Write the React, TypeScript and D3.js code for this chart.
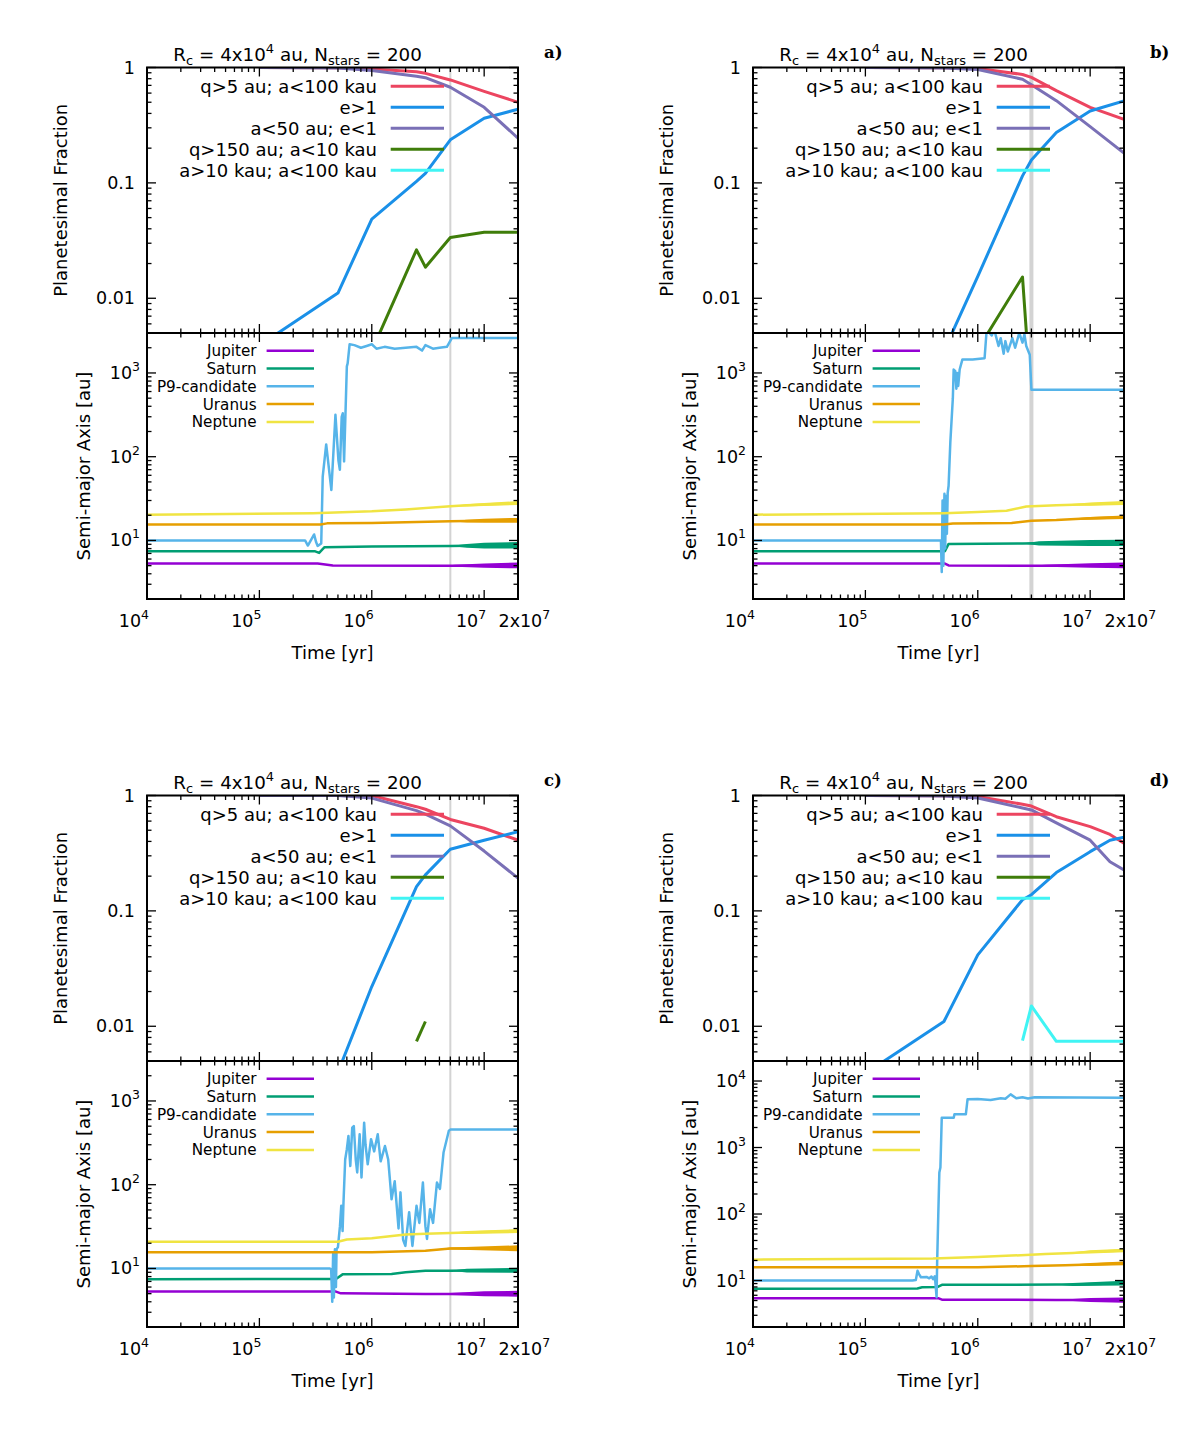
import React from 'react';
import * as d3 from 'd3';

type FRow = [number, number | null];
type PRow = number[]; // [t, a] or [t, lo, hi]

// ---------- labels / categories ----------
const FRACTION_LABELS = ['q>5 au; a<100 kau', 'e>1', 'a<50 au; e<1', 'q>150 au; a<10 kau', 'a>10 kau; a<100 kau'];
const FRACTION_COLORS = ['#ec4560', '#1a90e8', '#7a70b6', '#3f7d0a', '#40f4f4'];
const PLANET_LABELS = ['Jupiter', 'Saturn', 'P9-candidate', 'Uranus', 'Neptune'];
const PLANET_COLORS = ['#9400d3', '#009e73', '#56b4e9', '#e69f00', '#f0e442'];
const PANEL_TAGS = ['a)', 'b)', 'c)', 'd)'];
const MARKER_TIMES = [5e6, 3e6, 5e6, 3e6];
const SEMI_MAX = [3000, 3000, 3000, 20000];
const TIME_TICKS = [1e4, 1e5, 1e6, 1e7];
const FRACTION_TICKS = [1, 0.1, 0.01];
const FRACTION_TICK_LABELS = ['1', '0.1', '0.01'];

// ---------- fraction curves (time samples) ----------
const TIMES_ABC = [1e5, 5e5, 1e6, 2.5e6, 3e6, 5e6, 1e7, 2e7];
const TIMES_D = [1e5, 5e5, 1e6, 2.5e6, 3e6, 5e6, 1e7, 1.5e7, 2e7];

const a_q5 = [1, 0.995, 0.97, 0.92, 0.89, 0.78, 0.62, 0.5];
const a_e1 = [0.0039, 0.0111, 0.0485, 0.103, 0.121, 0.236, 0.363, 0.435];
const a_a50 = [1, 0.99, 0.94, 0.84, 0.816, 0.674, 0.452, 0.244];
const a_q150 = [null, null, 0.0035, 0.0263, 0.0186, 0.0336, 0.0374, 0.0374];
const a_a10k = [null, null, null, null, null, null, null, null];

const b_q5 = [1, 0.995, 0.98, 0.87, 0.82, 0.63, 0.452, 0.356];
const b_e1 = [0.0008, 0.0035, 0.0155, 0.115, 0.158, 0.273, 0.42, 0.513];
const b_a50 = [1, 0.99, 0.96, 0.79, 0.71, 0.516, 0.307, 0.181];
const b_q150 = [null, null, 0.0036, 0.0153, 0.0012, null, null, null];
const b_a10k = [null, null, null, null, null, null, null, null];

const c_q5 = [1, 1, 1, 0.8, 0.76, 0.62, 0.52, 0.41];
const c_e1 = [0.0005, 0.004, 0.0221, 0.162, 0.205, 0.342, 0.41, 0.486];
const c_a50 = [1, 1, 0.95, 0.74, 0.69, 0.545, 0.33, 0.192];
const c_q150 = [null, null, null, 0.0074, 0.011, null, null, null];
const c_a10k = [null, null, null, null, null, null, null, null];

const d_q5 = [1, 0.995, 0.98, 0.84, 0.81, 0.655, 0.537, 0.46, 0.386];
const d_e1 = [0.0039, 0.011, 0.0416, 0.125, 0.138, 0.215, 0.326, 0.41, 0.435];
const d_a50 = [1, 0.99, 0.95, 0.78, 0.75, 0.58, 0.41, 0.267, 0.226];
const d_q150 = [null, null, null, null, null, null, null, null, null];
const d_a10k = [null, null, null, 0.0075, 0.015, 0.0074, 0.0074, 0.0074, 0.0074];

// ---------- semi-major axes [t, a] or [t, low, high] ----------
const a_jupiter = [[1e4, 5.3], [3.3e5, 5.3], [4.5e5, 5.03], [4.5e6, 4.98], [5.5e6, 4.87, 5.12], [1e7, 4.72, 5.3], [2e7, 4.65, 5.45]];
const a_saturn = [[1e4, 7.45], [3.1e5, 7.45], [3.4e5, 7.1], [3.8e5, 8.3], [1e6, 8.45], [5e6, 8.6], [7e6, 8.2, 9.1], [1e7, 8.0, 9.4], [2e7, 8.0, 9.6]];
const a_p9 = [[1e4, 10], [2.55e5, 10], [2.7e5, 8.7], [2.9e5, 10.3], [3.07e5, 11.8], [3.2e5, 9.5], [3.3e5, 8.6], [3.55e5, 9.2], [3.66e5, 58], [3.93e5, 140], [4.37e5, 40], [4.75e5, 316], [5.05e5, 90], [5.2e5, 70], [5.4e5, 300], [5.52e5, 330], [5.67e5, 88], [6.0e5, 1200], [6.1e5, 1300], [6.35e5, 2200], [7e5, 2150], [8e5, 2000], [9e5, 2100], [1e6, 2200], [1.1e6, 1950], [1.3e6, 2050], [1.6e6, 1950], [2e6, 2000], [2.5e6, 2050], [2.8e6, 1850], [3e6, 2150], [3.5e6, 1950], [4e6, 2000], [4.66e6, 2050], [5.17e6, 2620], [2e7, 2620]];
const a_uranus = [[1e4, 15.5], [3.5e5, 15.5], [4e5, 16], [1e6, 16.2], [5e6, 17], [7e6, 16.4, 17.7], [1e7, 16.3, 18.2], [2e7, 16.3, 18.6]];
const a_neptune = [[1e4, 20.3], [3e5, 21.2], [1e6, 22.3], [2e6, 23.5], [5e6, 25.7], [7e6, 25.5, 27], [1e7, 25.8, 28], [2e7, 26.5, 29.5]];

const b_jupiter = [[1e4, 5.3], [5.1e5, 5.3], [5.5e5, 5.03], [3e6, 5.0], [4e6, 4.87, 5.13], [1e7, 4.72, 5.35], [2e7, 4.65, 5.45]];
const b_saturn = [[1e4, 7.45], [5.1e5, 7.45], [5.5e5, 9.1], [2.5e6, 9.2], [3.5e6, 8.7, 9.8], [1e7, 8.6, 10.1], [2e7, 8.6, 10.2]];
const b_p9 = [[1e4, 10], [4.7e5, 10], [4.78e5, 4.2], [4.86e5, 30], [4.94e5, 5], [5.05e5, 36], [5.13e5, 8], [5.22e5, 34], [5.31e5, 12], [5.4e5, 37], [5.5e5, 45], [5.7e5, 150], [6.0e5, 500], [6.1e5, 1100], [6.3e5, 1050], [6.45e5, 650], [6.56e5, 1000], [6.7e5, 700], [6.9e5, 1100], [7.3e5, 1450], [9e5, 1450], [1.15e6, 1500], [1.2e6, 3300], [1.33e6, 2800], [1.4e6, 3300], [1.53e6, 2100], [1.6e6, 2600], [1.7e6, 1700], [1.76e6, 2400], [1.85e6, 1800], [2.03e6, 2600], [2.15e6, 2000], [2.34e6, 3000], [2.5e6, 2300], [2.6e6, 2900], [2.7e6, 2100], [2.9e6, 1650], [3.0e6, 630], [2e7, 630]];
const b_uranus = [[1e4, 15.5], [5e5, 15.5], [6e5, 15.9], [2e6, 16.2], [3e6, 17.2], [5e6, 17.5], [1e7, 17.7, 19.1], [2e7, 18.1, 19.9]];
const b_neptune = [[1e4, 20.3], [5e5, 21.2], [1e6, 21.8], [1.8e6, 22.6], [2.7e6, 25.5], [5e6, 26.3], [1e7, 26, 28.3], [2e7, 26.5, 29.5]];

const c_jupiter = [[1e4, 5.3], [4.8e5, 5.3], [5.3e5, 5.05], [3e6, 4.95], [5e6, 4.82, 5.08], [1e7, 4.65, 5.35], [2e7, 4.6, 5.4]];
const c_saturn = [[1e4, 7.45], [4.8e5, 7.5], [5.5e5, 8.5], [1.5e6, 8.6], [2e6, 9.0], [3e6, 9.4], [5e6, 9.4], [7e6, 8.95, 9.95], [2e7, 8.9, 10.2]];
const c_p9 = [[1e4, 10], [4.2e5, 10], [4.35e5, 9.8], [4.45e5, 4], [4.53e5, 15], [4.6e5, 4.5], [4.7e5, 17], [4.8e5, 6], [4.86e5, 17], [5.0e5, 18], [5.21e5, 32], [5.35e5, 56], [5.5e5, 28], [5.6e5, 61], [5.8e5, 200], [6e5, 265], [6.2e5, 382], [6.44e5, 167], [6.7e5, 480], [6.92e5, 500], [7.2e5, 200], [7.42e5, 140], [7.8e5, 400], [8.1e5, 122], [8.55e5, 550], [8.8e5, 300], [9.2e5, 175], [9.85e5, 350], [1.05e6, 250], [1.13e6, 400], [1.2e6, 190], [1.31e6, 290], [1.4e6, 200], [1.5e6, 67], [1.6e6, 110], [1.73e6, 30], [1.8e6, 81], [1.9e6, 22], [1.99e6, 18.6], [2.15e6, 47], [2.3e6, 18.6], [2.5e6, 56], [2.65e6, 35], [2.85e6, 106], [3e6, 32], [3.1e6, 22.5], [3.3e6, 51], [3.51e6, 35], [3.8e6, 106], [4.04e6, 89], [4.35e6, 242], [4.85e6, 440], [5.0e6, 455], [2e7, 455]];
const c_uranus = [[1e4, 15.6], [1e6, 15.6], [3e6, 16.3], [5e6, 16.8, 17.8], [2e7, 16.1, 18.9]];
const c_neptune = [[1e4, 20.8], [5e5, 20.8], [6e5, 22.2], [1e6, 23], [2e6, 25.5], [3e6, 26], [5e6, 26.5], [7e6, 25.8, 28], [2e7, 26.5, 29.5]];

const d_jupiter = [[1e4, 5.4], [4.5e5, 5.4], [4.8e5, 5.15], [5e6, 5.1], [7e6, 4.92, 5.28], [1e7, 4.75, 5.45], [2e7, 4.65, 5.55]];
const d_saturn = [[1e4, 7.5], [2.9e5, 7.6], [3.2e5, 7.9], [4.4e5, 8.0], [4.8e5, 8.6], [5e6, 8.7], [7e6, 8.3, 9.2], [2e7, 8.4, 9.9]];
const d_p9 = [[1e4, 10], [2.62e5, 10], [2.81e5, 10.2], [2.91e5, 14], [3.0e5, 12.5], [3.12e5, 11.2], [3.5e5, 11.3], [3.7e5, 10.8], [3.87e5, 11.5], [4.0e5, 10.5], [4.15e5, 11.6], [4.3e5, 5.6], [4.35e5, 18.8], [4.45e5, 94], [4.55e5, 420], [4.65e5, 500], [4.78e5, 2800], [6.11e5, 2800], [6.2e5, 3160], [7.83e5, 3160], [8.11e5, 5300], [1e6, 5350], [1.3e6, 5200], [1.6e6, 5500], [1.76e6, 5400], [1.96e6, 6300], [2.2e6, 5500], [2.5e6, 5700], [2.8e6, 5450], [3.2e6, 5700], [2e7, 5600]];
const d_uranus = [[1e4, 15.8], [1e6, 15.8], [3e6, 16.5], [6e6, 16.9], [1e7, 16.6, 18.4], [2e7, 16.9, 19.4]];
const d_neptune = [[1e4, 20.6], [4e5, 21.4], [1e6, 22.5], [2e6, 23.7], [4e6, 25], [7e6, 25.5, 26.5], [1e7, 25.5, 28.5], [2e7, 26.5, 30]];

// ---------- tables built from the arrays ----------
const FRACTION_TIMES = [TIMES_ABC, TIMES_ABC, TIMES_ABC, TIMES_D];
const FRACTIONS = [
  [a_q5, a_e1, a_a50, a_q150, a_a10k],
  [b_q5, b_e1, b_a50, b_q150, b_a10k],
  [c_q5, c_e1, c_a50, c_q150, c_a10k],
  [d_q5, d_e1, d_a50, d_q150, d_a10k],
];
const PLANETS = [
  [a_jupiter, a_saturn, a_p9, a_uranus, a_neptune],
  [b_jupiter, b_saturn, b_p9, b_uranus, b_neptune],
  [c_jupiter, c_saturn, c_p9, c_uranus, c_neptune],
  [d_jupiter, d_saturn, d_p9, d_uranus, d_neptune],
];

// ---------- layout ----------
const PANEL_POS = [[147, 67.5], [753, 67.5], [147, 795.5], [753, 795.5]];
const MARKER_WIDTH = [2, 4, 2, 4];
const PW = 371;
const HT = 265.5;
const HB = 266;
const FONT = "'DejaVu Sans', sans-serif";

function logTicks(lo: number, hi: number) {
  const out: { v: number; major: boolean }[] = [];
  for (let e = Math.floor(Math.log10(lo)) - 1; e <= Math.ceil(Math.log10(hi)); e++) {
    for (let k = 1; k < 10; k++) {
      const v = k * Math.pow(10, e);
      if (v >= lo * 0.9999 && v <= hi * 1.0001) out.push({ v, major: k === 1 });
    }
  }
  return out;
}

function Panel({ i }: { i: number }) {
  const [left, top] = PANEL_POS[i];
  const right = left + PW;
  const mid = top + HT;
  const bot = mid + HB;
  const x = d3.scaleLog().domain([1e4, 2e7]).range([left, right]);
  const yT = d3.scaleLog().domain([0.005, 1]).range([mid, top]);
  const yB = d3.scaleLog().domain([2, SEMI_MAX[i]]).range([bot, mid]);

  const times = FRACTION_TIMES[i];
  const lineT = d3
    .line<FRow>()
    .defined((d) => d[1] != null && (d[1] as number) > 0)
    .x((d) => x(d[0]))
    .y((d) => yT(d[1] as number));

  const area = d3
    .area<PRow>()
    .x((d) => x(d[0]))
    .y0((d) => yB(d[1]))
    .y1((d) => yB(d.length > 2 ? d[2] : d[1]));
  const lineB = d3
    .line<PRow>()
    .x((d) => x(d[0]))
    .y((d) => yB(d.length > 2 ? Math.sqrt(d[1] * d[2]) : d[1]));

  const xt = logTicks(1e4, 2e7);
  const ytT = logTicks(0.005, 1);
  const ytB = logTicks(2, SEMI_MAX[i]);
  const bTicksMajor = ytB.filter((t) => t.major);
  const tk = (m: boolean) => (m ? 9 : 4.5);
  const clipT = `clipT${i}`;
  const clipB = `clipB${i}`;
  const mx = x(MARKER_TIMES[i]);

  return (
    <g>
      <defs>
        <clipPath id={clipT}>
          <rect x={left} y={top} width={PW} height={HT} />
        </clipPath>
        <clipPath id={clipB}>
          <rect x={left} y={mid} width={PW} height={HB} />
        </clipPath>
      </defs>

      {/* marker line */}
      <line x1={mx} x2={mx} y1={top} y2={bot} stroke="#d3d3d3" strokeWidth={MARKER_WIDTH[i]} />

      {/* top: fractions */}
      <g clipPath={`url(#${clipT})`}>
        {FRACTIONS[i].map((vals, s) => {
          const rows: FRow[] = times.map((t, k) => [t, vals[k] as number | null]);
          return (
            <path key={s} d={lineT(rows) || ''} fill="none" stroke={FRACTION_COLORS[s]} strokeWidth={3} strokeLinejoin="round" />
          );
        })}
      </g>
      {/* top legend */}
      {FRACTION_LABELS.map((lab, s) => {
        const yy = top + 18.8 + 21 * s;
        return (
          <g key={s}>
            <text x={left + 230} y={yy + 6.5} textAnchor="end" fontSize={18}>
              {lab}
            </text>
            <line x1={left + 243.7} x2={left + 297} y1={yy} y2={yy} stroke={FRACTION_COLORS[s]} strokeWidth={3} />
          </g>
        );
      })}

      {/* bottom: semi-major axes */}
      <g clipPath={`url(#${clipB})`}>
        {PLANETS[i].map((rows, s) => (
          <g key={s}>
            <path d={area(rows as PRow[]) || ''} fill={PLANET_COLORS[s]} stroke="none" />
            <path d={lineB(rows as PRow[]) || ''} fill="none" stroke={PLANET_COLORS[s]} strokeWidth={2.5} strokeLinejoin="round" />
          </g>
        ))}
      </g>
      {/* bottom legend */}
      {PLANET_LABELS.map((lab, s) => {
        const yy = mid + 17.7 + 17.8 * s;
        return (
          <g key={s}>
            <text x={left + 109.6} y={yy + 5.5} textAnchor="end" fontSize={15.2}>
              {lab}
            </text>
            <line x1={left + 119.6} x2={left + 167} y1={yy} y2={yy} stroke={PLANET_COLORS[s]} strokeWidth={2.5} />
          </g>
        );
      })}

      {/* ticks */}
      <g stroke="#000" strokeWidth={1.3}>
        {xt.map((t, k) => {
          const xx = x(t.v);
          const L = tk(t.major);
          return (
            <g key={k}>
              <line x1={xx} x2={xx} y1={top} y2={top + L} />
              <line x1={xx} x2={xx} y1={mid} y2={mid - L} />
              <line x1={xx} x2={xx} y1={mid} y2={mid + L} />
              <line x1={xx} x2={xx} y1={bot} y2={bot - L} />
            </g>
          );
        })}
        {ytT.map((t, k) => {
          const yy = yT(t.v);
          const L = tk(t.major);
          return (
            <g key={k}>
              <line x1={left} x2={left + L} y1={yy} y2={yy} />
              <line x1={right} x2={right - L} y1={yy} y2={yy} />
            </g>
          );
        })}
        {ytB.map((t, k) => {
          const yy = yB(t.v);
          const L = tk(t.major);
          return (
            <g key={k}>
              <line x1={left} x2={left + L} y1={yy} y2={yy} />
              <line x1={right} x2={right - L} y1={yy} y2={yy} />
            </g>
          );
        })}
      </g>

      {/* borders */}
      <rect x={left} y={top} width={PW} height={HT} fill="none" stroke="#000" strokeWidth={2} />
      <rect x={left} y={mid} width={PW} height={HB} fill="none" stroke="#000" strokeWidth={2} />

      {/* tick labels */}
      {FRACTION_TICKS.map((v, k) => (
        <text key={k} x={left - 12} y={yT(v) + 6} textAnchor="end" fontSize={17.5}>
          {FRACTION_TICK_LABELS[k]}
        </text>
      ))}
      {bTicksMajor
        .filter((t) => t.v >= 10)
        .map((t, k) => (
          <text key={k} x={left - 7} y={yB(t.v) + 6} textAnchor="end" fontSize={17.5}>
            10<tspan fontSize={12.5} dy={-8}>{Math.round(Math.log10(t.v))}</tspan>
          </text>
        ))}
      {TIME_TICKS.map((v, k) => (
        <text key={k} x={x(v) + 2} y={bot + 28} textAnchor="end" fontSize={17.5}>
          10<tspan fontSize={12.5} dy={-8}>{Math.round(Math.log10(v))}</tspan>
        </text>
      ))}
      <text x={right - 19.5} y={bot + 28} fontSize={17.5}>
        2x10<tspan fontSize={12.5} dy={-8}>7</tspan>
      </text>

      {/* axis titles */}
      <text x={left + PW / 2} y={bot + 59.5} textAnchor="middle" fontSize={18}>
        Time [yr]
      </text>
      <text transform={`translate(${left - 80},${top + HT / 2}) rotate(-90)`} textAnchor="middle" fontSize={18}>
        Planetesimal Fraction
      </text>
      <text transform={`translate(${left - 57},${mid + HB / 2}) rotate(-90)`} textAnchor="middle" fontSize={18}>
        Semi-major Axis [au]
      </text>

      {/* title */}
      <text x={left + 150.6} y={top - 7} textAnchor="middle" fontSize={18.3}>
        R<tspan fontSize={13} dy={4.5}>c</tspan>
        <tspan dy={-4.5}>{' = 4x10'}</tspan>
        <tspan fontSize={13} dy={-8}>4</tspan>
        <tspan dy={8}>{' au, N'}</tspan>
        <tspan fontSize={13} dy={4.5}>stars</tspan>
        <tspan dy={-4.5}>{' = 200'}</tspan>
      </text>
      <text x={left + 397} y={top - 9.5} fontSize={16.5} fontWeight="bold" fontFamily="'DejaVu Serif', serif">
        {PANEL_TAGS[i]}
      </text>
    </g>
  );
}

export default function App() {
  return (
    <svg
      width={1200}
      height={1453}
      viewBox="0 0 1200 1453"
      style={{ position: 'absolute', left: 0, top: 0, background: '#fff' }}
      fontFamily={FONT}
    >
      <rect x={0} y={0} width={1200} height={1453} fill="#fff" />
      {PANEL_POS.map((_, i) => (
        <Panel key={i} i={i} />
      ))}
    </svg>
  );
}
